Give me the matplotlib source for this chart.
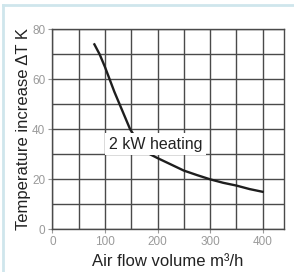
import numpy as np
import matplotlib.pyplot as plt
from matplotlib.lines import Line2D

plt.rcParams['font.family'] = ['Liberation Sans', 'DejaVu Sans']

flow = [80, 90, 100, 109, 118, 128, 138, 148, 165, 186, 200, 225, 250, 275, 300, 325, 350, 375, 400]
delta_t = [74, 70, 65, 60, 55, 50, 45, 40, 34.5, 30, 28.5, 26, 23.5, 21.7, 20, 18.6, 17.5, 16.1, 15]
xticks = [0, 100, 200, 300, 400]
yticks = [0, 20, 40, 60, 80]

fig = plt.figure(figsize=(2.94, 2.72), dpi=100)
ax = fig.add_axes([0.178, 0.157, 0.787, 0.735])

# light blue frame round the picture
fig.add_artist(Line2D([0.011, 1.0], [0.982, 0.982], color='#cfe6ec', lw=2.0, transform=fig.transFigure))
fig.add_artist(Line2D([0.011, 0.011], [0.0, 0.982], color='#cfe6ec', lw=2.0, transform=fig.transFigure))

ax.set_xlim(0, 440)
ax.set_ylim(0, 80)
ax.set_xticks(np.arange(0, 440, 50), minor=True)
ax.set_yticks(np.arange(0, 81, 10), minor=True)
ax.grid(which='both', color='#4a4a4a', lw=1.0)
ax.set_axisbelow(True)
for s in ax.spines.values():
    s.set_color('#4a4a4a')
    s.set_linewidth(1.0)

ax.set_xticks(xticks)
ax.set_yticks(yticks)
ax.tick_params(which='major', labelsize=8.5, labelcolor='#9a9a9a', color='#9a9a9a', length=3, width=0.8, pad=2)
ax.tick_params(which='minor', length=0)

ax.plot(flow, delta_t, color='#1e1e1e', lw=1.7, solid_joinstyle='round')
ax.text(196, 34, '2 kW heating', fontsize=11.5, color='#222222', ha='center', va='center',
        bbox=dict(facecolor='white', edgecolor='none', pad=2.5))

ax.set_xlabel('Air flow volume m³/h', fontsize=12, color='#222222', labelpad=4)
ax.set_ylabel('Temperature increase ΔT K', fontsize=12, color='#222222', labelpad=1)

fig.savefig('out.png', dpi=100)
